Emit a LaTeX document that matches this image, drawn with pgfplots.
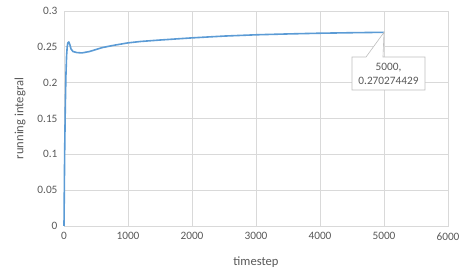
\documentclass[border=0pt]{standalone}
\usepackage{pgfplots}
\pgfplotsset{compat=1.18}
\usepackage{fontspec}
\setmainfont{Carlito}
\definecolor{gridgray}{HTML}{D9D9D9}
\definecolor{txtgray}{HTML}{595959}
\definecolor{xlblue}{HTML}{5B9BD5}
\definecolor{boxgray}{HTML}{BFBFBF}
\begin{document}
\begin{tikzpicture}
\useasboundingbox (0,0) rectangle (470pt,275pt);
\begin{axis}[
  at={(64pt,49pt)}, anchor=south west,
  scale only axis, width=384pt, height=215pt,
  xmin=0, xmax=6000, ymin=0, ymax=0.3,
  xtick={0,1000,...,6000}, ytick={0,0.05,...,0.3},
  yticklabels={0,0.05,0.1,0.15,0.2,0.25,0.3},
  scaled y ticks=false,
  /pgf/number format/1000 sep={},
  xmajorgrids, ymajorgrids,
  grid style={gridgray, line width=0.75pt},
  axis line style={gridgray, line width=0.75pt},
  major tick length=0pt,
  tick label style={font=\fontsize{11.3}{13}\selectfont, text=txtgray},
  /pgf/number format/assume math mode=true,
  xticklabel style={yshift=-3pt},
  yticklabel style={xshift=-3pt},
  label style={font=\fontsize{12.6}{14}\selectfont, text=txtgray},
  xlabel={timestep}, ylabel={running integral},
  xlabel style={yshift=-10pt},
  ylabel style={yshift=5pt},
  clip=false,
]
\addplot[xlblue, line width=1.6pt, line join=round] coordinates {
(0,0) (5,0.05) (10,0.10) (20,0.165) (30,0.21) (40,0.237) (50,0.250) (60,0.2555)
(75,0.2568) (90,0.2535) (110,0.247) (140,0.2435) (200,0.2420) (280,0.2415)
(400,0.2435) (600,0.2490) (800,0.2525) (1000,0.2555) (1200,0.2575) (1500,0.2595)
(2000,0.2625) (2500,0.2650) (3000,0.2668) (3500,0.2680) (4000,0.2690)
(4500,0.2697) (5000,0.270274429)
};
\draw[boxgray, fill=white, line width=0.6pt, line join=miter]
  (axis cs:4500,0.2358) -- (axis cs:4719,0.2358) -- (axis cs:5000,0.2703)
  -- (axis cs:4984,0.2358) -- (axis cs:5641,0.2358) -- (axis cs:5641,0.1898)
  -- (axis cs:4500,0.1898) -- cycle;
\node[align=center, text=txtgray, font=\fontsize{11.3}{14}\selectfont]
  at (axis cs:5070,0.2128) {5000,\\0.270274429};
\end{axis}
\end{tikzpicture}
\end{document}
